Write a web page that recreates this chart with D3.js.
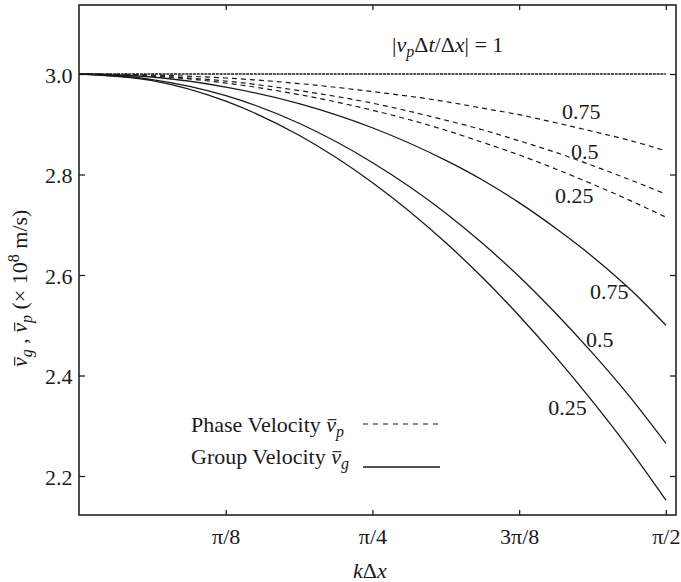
<!DOCTYPE html>
<html>
<head>
<meta charset="utf-8">
<script src="https://cdn.jsdelivr.net/npm/d3@7"></script>
<style>
  html, body { margin: 0; padding: 0; background: #fff; }
  svg { display: block; }
  text { font-family: "Liberation Serif", "Times New Roman", serif; fill: #1a1a1a; }
</style>
</head>
<body>
<svg id="chart" width="681" height="582"></svg>
<script>
// Numerical dispersion of the 1-D Yee scheme: phase and group velocity
// versus k·Δx for several Courant numbers |v_p Δt/Δx|.
const kDx = [0, 0.196, 0.393, 0.589, 0.785, 0.982, 1.080, 1.178, 1.276, 1.374, 1.473, 1.571];

const courantLabels = ["0.25", "0.5", "0.75"];

// phase velocity (×10^8 m/s)
const phase025 = [3.000, 2.996, 2.982, 2.959, 2.928, 2.888, 2.864, 2.839, 2.811, 2.781, 2.749, 2.715];
const phase050 = [3.000, 2.996, 2.986, 2.967, 2.942, 2.908, 2.889, 2.867, 2.844, 2.818, 2.790, 2.761];
const phase075 = [3.000, 2.998, 2.992, 2.981, 2.965, 2.945, 2.932, 2.919, 2.903, 2.886, 2.868, 2.847];

// group velocity (×10^8 m/s)
const group025 = [3.000, 2.987, 2.946, 2.878, 2.784, 2.664, 2.595, 2.519, 2.437, 2.349, 2.254, 2.152];
const group050 = [3.000, 2.989, 2.957, 2.902, 2.824, 2.723, 2.663, 2.597, 2.524, 2.445, 2.359, 2.265];
const group075 = [3.000, 2.994, 2.974, 2.941, 2.893, 2.828, 2.789, 2.744, 2.693, 2.637, 2.573, 2.500];

// Courant number 1: no dispersion
const magic = [3.000, 3.000, 3.000, 3.000, 3.000, 3.000, 3.000, 3.000, 3.000, 3.000, 3.000, 3.000];

const xTickValues = [Math.PI / 8, Math.PI / 4, 3 * Math.PI / 8, Math.PI / 2];
const xTickLabels = ["π/8", "π/4", "3π/8", "π/2"];
const yTickValues = [2.2, 2.4, 2.6, 2.8, 3.0];

// label anchors in data coordinates [kΔx, velocity]
const phaseLabelPos = [[1.274, 2.743], [1.317, 2.831], [1.293, 2.910]];
const groupLabelPos = [[1.256, 2.321], [1.357, 2.457], [1.368, 2.552]];

const svg = d3.select("#chart");
const ink = "#1a1a1a";
const fs = 22;
const fsSub = 16;

const x = d3.scaleLinear().domain([0, 1.598]).range([79, 676]);
const y = d3.scaleLinear().domain([2.1224, 3.1373]).range([515, 5]);

const [x0, x1] = x.range();
const [yb, yt] = y.range();

// frame
svg.append("rect")
  .attr("x", x0).attr("y", yt)
  .attr("width", x1 - x0).attr("height", yb - yt)
  .attr("fill", "none").attr("stroke", "#222").attr("stroke-width", 1.6);

// axes with inward ticks
const gLeft = svg.append("g").attr("transform", `translate(${x0},0)`)
  .call(d3.axisLeft(y).tickValues(yTickValues).tickFormat(d3.format(".1f"))
    .tickSize(-6).tickSizeOuter(0).tickPadding(6.5));
const gRight = svg.append("g").attr("transform", `translate(${x1},0)`)
  .call(d3.axisRight(y).tickValues(yTickValues).tickFormat("")
    .tickSize(-6).tickSizeOuter(0));
const gBottom = svg.append("g").attr("transform", `translate(0,${yb})`)
  .call(d3.axisBottom(x).tickValues(xTickValues).tickFormat((d, i) => xTickLabels[i])
    .tickSize(-5).tickSizeOuter(0).tickPadding(13));
const gTop = svg.append("g").attr("transform", `translate(0,${yt})`)
  .call(d3.axisTop(x).tickValues(xTickValues).tickFormat("")
    .tickSize(-5).tickSizeOuter(0));

[gLeft, gRight, gBottom, gTop].forEach(g => {
  g.select(".domain").remove();
  g.selectAll(".tick line").attr("stroke", "#222").attr("stroke-width", 1.3);
  g.selectAll(".tick text")
    .attr("fill", ink)
    .style("font-family", '"Liberation Serif", "Times New Roman", serif')
    .style("font-size", fs + "px");
});
gLeft.selectAll(".tick text").attr("dy", "0.38em");

// curves
const line = d3.line()
  .x((d, i) => x(kDx[i]))
  .y(d => y(d))
  .curve(d3.curveMonotoneX);

const plot = svg.append("g");

plot.append("path").datum(magic)
  .attr("d", line).attr("fill", "none")
  .attr("stroke", ink).attr("stroke-width", 1.5)
  .attr("stroke-dasharray", "3,0.8");

[phase025, phase050, phase075].forEach(s => {
  plot.append("path").datum(s)
    .attr("d", line).attr("fill", "none")
    .attr("stroke", ink).attr("stroke-width", 1.2)
    .attr("stroke-dasharray", "5,4");
});

[group025, group050, group075].forEach(s => {
  plot.append("path").datum(s)
    .attr("d", line).attr("fill", "none")
    .attr("stroke", ink).attr("stroke-width", 1.3);
});

// curve labels
courantLabels.forEach((lab, i) => {
  svg.append("text")
    .attr("x", x(phaseLabelPos[i][0])).attr("y", y(phaseLabelPos[i][1]))
    .style("font-size", fs + "px").text(lab);
  svg.append("text")
    .attr("x", x(groupLabelPos[i][0])).attr("y", y(groupLabelPos[i][1]))
    .style("font-size", fs + "px").text(lab);
});

// rich text runs; runs flagged `o` get a short bar drawn over them
function runs(parent, attrs, parts) {
  const text = parent.append("text").style("font-size", fs + "px");
  Object.entries(attrs).forEach(([k, v]) => text.attr(k, v));
  const baseY = +(attrs.y || 0);
  const bars = [];
  let idx = 0;
  parts.forEach(p => {
    const t = text.append("tspan").text(p.t);
    if (p.i) t.style("font-style", "italic");
    if (p.fs) t.style("font-size", p.fs + "px");
    if (p.dy) t.attr("dy", p.dy);
    if (p.o) bars.push(idx);
    idx += p.t.length;
  });
  const node = text.node();
  bars.forEach(ci => {
    const e = node.getExtentOfChar(ci);
    parent.append("line")
      .attr("x1", e.x + 1.5).attr("x2", e.x + e.width + 0.5)
      .attr("y1", baseY - 0.56 * fs).attr("y2", baseY - 0.56 * fs)
      .attr("stroke", ink).attr("stroke-width", 1.1);
  });
  return text;
}

// |v_p Δt/Δx| = 1
runs(svg, { x: x(0.838), y: y(3.0438) }, [
  { t: "|" },
  { t: "v", i: true },
  { t: "p", i: true, fs: fsSub, dy: 5 },
  { t: "Δ", dy: -5 },
  { t: "t", i: true },
  { t: "/Δ" },
  { t: "x", i: true },
  { t: "| = 1" }
]);

// legend
const legend = svg.append("g");
runs(legend, { x: 191, y: 432 }, [
  { t: "Phase Velocity " },
  { t: "v", i: true, o: true },
  { t: "p", i: true, fs: fsSub, dy: 5 }
]);
runs(legend, { x: 191, y: 464 }, [
  { t: "Group Velocity " },
  { t: "v", i: true, o: true },
  { t: "g", i: true, fs: fsSub, dy: 5 }
]);
legend.append("line")
  .attr("x1", 363).attr("x2", 440).attr("y1", 424).attr("y2", 424)
  .attr("stroke", ink).attr("stroke-width", 1.2).attr("stroke-dasharray", "5,5");
legend.append("line")
  .attr("x1", 363).attr("x2", 440).attr("y1", 467).attr("y2", 467)
  .attr("stroke", ink).attr("stroke-width", 1.3);

// axis titles
runs(svg, { x: 353, y: 578 }, [
  { t: "k", i: true },
  { t: "Δ" },
  { t: "x", i: true }
]);

const yTitle = svg.append("g").attr("transform", "translate(27,367) rotate(-90)");
runs(yTitle, { x: 0, y: 0 }, [
  { t: "v", i: true, o: true },
  { t: "g", i: true, fs: fsSub, dy: 5 },
  { t: " , ", dy: -5 },
  { t: "v", i: true, o: true },
  { t: "p", i: true, fs: fsSub, dy: 5 },
  { t: " (× 10", dy: -5 },
  { t: "8", fs: fsSub, dy: -8 },
  { t: " m/s)", dy: 8 }
]);
</script>
</body>
</html>
